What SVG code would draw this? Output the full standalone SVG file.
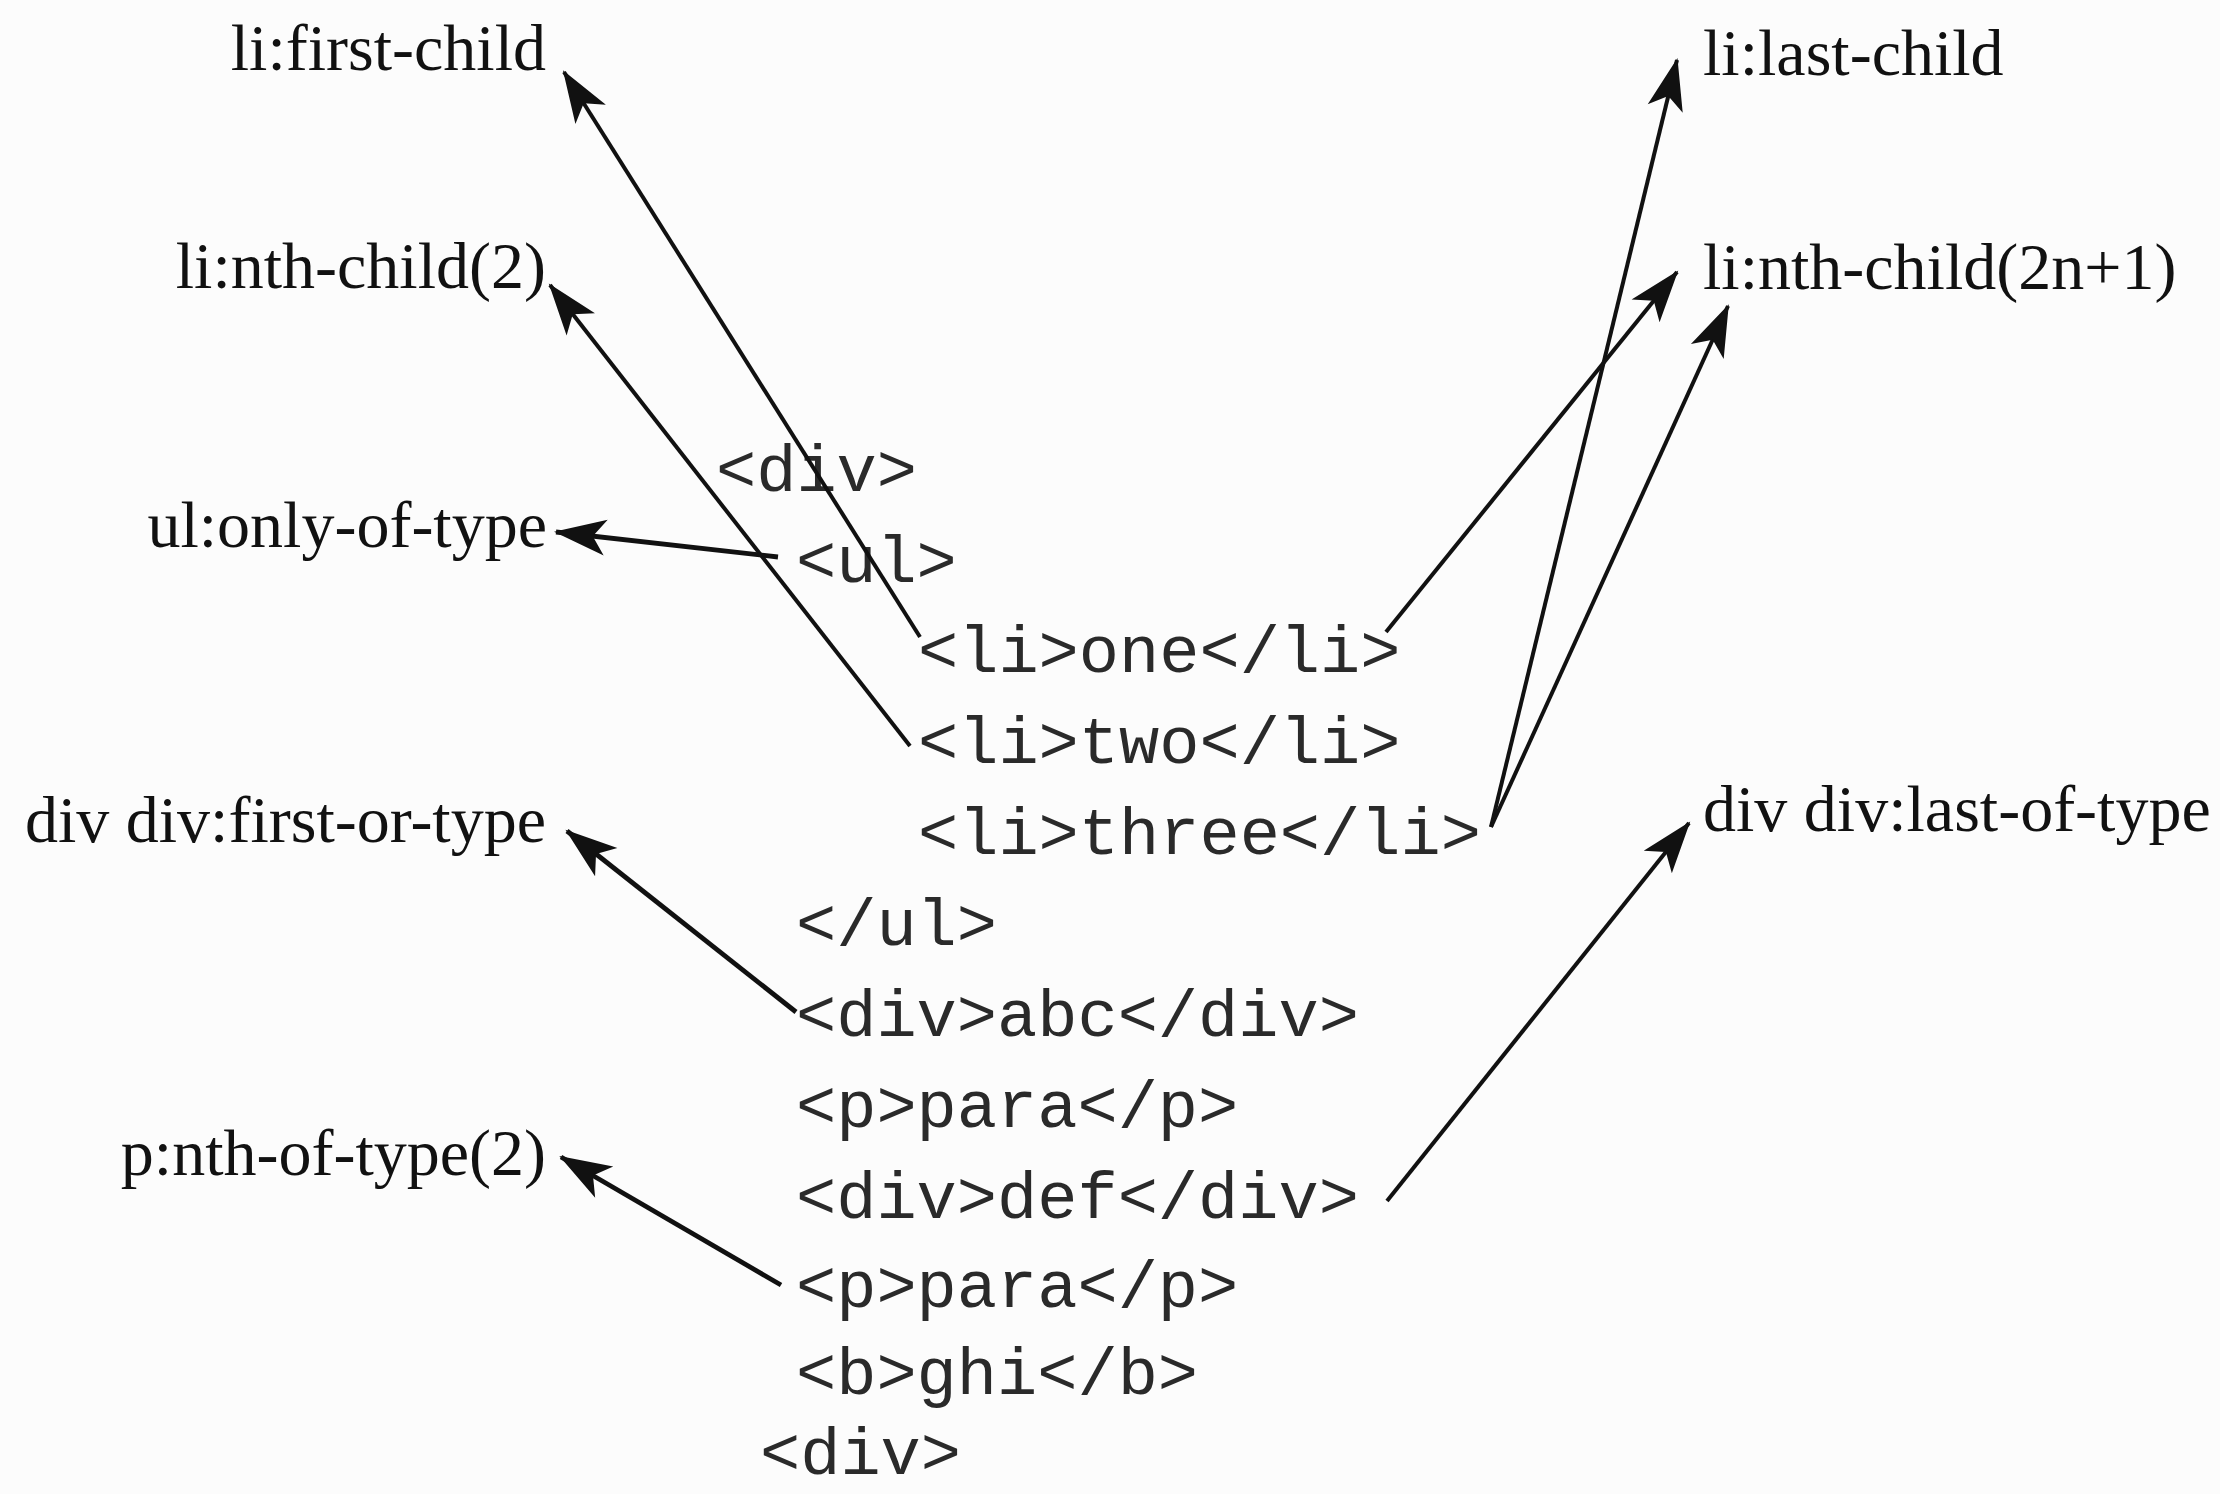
<svg xmlns="http://www.w3.org/2000/svg" width="2220" height="1494" viewBox="0 0 2220 1494">
<style>
.lbl{font-family:"Liberation Serif","Times New Roman",serif;font-size:66px;fill:#111}
.code{font-family:"Liberation Mono","Courier New",monospace;font-size:67px;fill:#2a2a2a}
.arr{stroke:#111;stroke-width:4;fill:none;marker-end:url(#ah)}
.arrb{stroke:#111;stroke-width:4.8;fill:none;marker-end:url(#ah)}
</style>
<defs>
<marker id="ah" markerUnits="userSpaceOnUse" viewBox="-54 -20 58 40" markerWidth="58" markerHeight="40" refX="0" refY="0" orient="auto">
<path d="M2,0 L-50,-18 L-37,0 L-50,18 Z" fill="#111"/>
</marker>
</defs>
<rect width="2220" height="1494" fill="#fcfcfc"/>
<g id="labels-left">
<g id="n-first-child"><text class="lbl" x="546" y="70" text-anchor="end">li:first-child</text></g>
<g id="n-nth-child-2"><text class="lbl" x="546" y="288" text-anchor="end">li:nth-child(2)</text></g>
<g id="n-only-of-type"><text class="lbl" x="547" y="547" text-anchor="end">ul:only-of-type</text></g>
<g id="n-first-of-type"><text class="lbl" x="546" y="842" text-anchor="end">div div:first-or-type</text></g>
<g id="n-nth-of-type-2"><text class="lbl" x="546" y="1175" text-anchor="end">p:nth-of-type(2)</text></g>
</g>
<g id="labels-right">
<g id="n-last-child"><text class="lbl" x="1703" y="75">li:last-child</text></g>
<g id="n-nth-child-2n1"><text class="lbl" x="1703" y="289">li:nth-child(2n+1)</text></g>
<g id="n-last-of-type"><text class="lbl" x="1703" y="831">div div:last-of-type</text></g>
</g>
<g id="code">
<g id="c-div-open"><text class="code" x="716" y="491">&lt;div&gt;</text></g>
<g id="c-ul"><text class="code" x="796" y="582">&lt;ul&gt;</text></g>
<g id="c-li-one"><text class="code" x="918" y="672">&lt;li&gt;one&lt;/li&gt;</text></g>
<g id="c-li-two"><text class="code" x="918" y="763">&lt;li&gt;two&lt;/li&gt;</text></g>
<g id="c-li-three"><text class="code" x="918" y="854">&lt;li&gt;three&lt;/li&gt;</text></g>
<g id="c-ul-close"><text class="code" x="796" y="945">&lt;/ul&gt;</text></g>
<g id="c-div-abc"><text class="code" x="796" y="1036">&lt;div&gt;abc&lt;/div&gt;</text></g>
<g id="c-p1"><text class="code" x="796" y="1127">&lt;p&gt;para&lt;/p&gt;</text></g>
<g id="c-div-def"><text class="code" x="796" y="1218">&lt;div&gt;def&lt;/div&gt;</text></g>
<g id="c-p2"><text class="code" x="796" y="1307">&lt;p&gt;para&lt;/p&gt;</text></g>
<g id="c-b"><text class="code" x="796" y="1394">&lt;b&gt;ghi&lt;/b&gt;</text></g>
<g id="c-div-last"><text class="code" x="760" y="1474">&lt;div&gt;</text></g>
</g>
<g id="connectors">
<path class="arr" d="M920,637 L564,72"/>
<path class="arr" d="M910,746 L550,285"/>
<path class="arrb" d="M778,557 L556,532"/>
<path class="arrb" d="M796,1012 L567,831"/>
<path class="arrb" d="M781,1285 L561,1157"/>
<path class="arr" d="M1491,827 L1677,60"/>
<path class="arr" d="M1386,632 L1677,272"/>
<path class="arr" d="M1491,827 L1728,306"/>
<path class="arr" d="M1387,1201 L1689,823"/>
</g>
</svg>
